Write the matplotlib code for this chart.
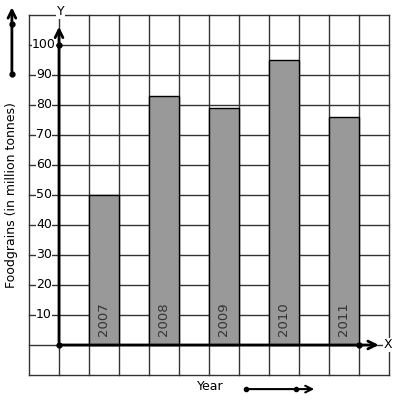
import matplotlib.pyplot as plt

# data
years = ['2007', '2008', '2009', '2010', '2011']
foodgrains = [50, 83, 79, 95, 76]
y_ticks = [10, 20, 30, 40, 50, 60, 70, 80, 90, 100]

fig = plt.figure(figsize=(3.97, 4.01), dpi=100)
ax = fig.add_axes([0, 0, 1, 1])
# one grid cell = 30 px, one unit across, 10 units up
ax.set_xlim(-59 / 30, (397 - 59) / 30)
ax.set_ylim(-56 / 3, 345 / 3)
ax.axis('off')

# grid
for gx in range(-1, 12):
    ax.plot([gx, gx], [-10, 110], color='#333333', lw=1, zorder=1)
for gy in range(-10, 111, 10):
    ax.plot([-1, 11], [gy, gy], color='#333333', lw=1, zorder=1)

# bars
pos = [1.5 + 2 * i for i in range(len(years))]
ax.bar(pos, foodgrains, width=1, color='#999999', edgecolor='black', lw=1, zorder=2)
for p, yr in zip(pos, years):
    ax.text(p, 8.7, yr, rotation=90, ha='center', va='center', fontsize=9.5,
            color='#333333', zorder=3)

# axes with arrows
ax.annotate('', xy=(0, 107), xytext=(0, 0),
            arrowprops=dict(arrowstyle='->', lw=2, color='black', mutation_scale=14), zorder=4)
ax.annotate('', xy=(10.75, 0), xytext=(0, 0),
            arrowprops=dict(arrowstyle='->', lw=2, color='black', mutation_scale=14), zorder=4)
ax.plot([0, 0, 10], [0, 100, 0], 'o', color='black', ms=3.5, zorder=5)
ax.text(0.05, 111, 'Y', ha='center', va='center', fontsize=9,
        bbox=dict(facecolor='white', edgecolor='none', pad=0.5), zorder=5)
ax.text(10.97, 0, 'X', ha='center', va='center', fontsize=9,
        bbox=dict(facecolor='white', edgecolor='none', pad=0.5), zorder=5)

# tick labels sitting on the grid lines
for t in y_ticks:
    ax.text(-0.5, t, str(t), ha='center', va='center', fontsize=9,
            bbox=dict(facecolor='white', edgecolor='none', pad=0.3), zorder=3)

# y title and its arrow
ax.text(-1.57, 50, 'Foodgrains (in million tonnes)', rotation=90,
        ha='center', va='center', fontsize=9)
ax.annotate('', xy=(-1.57, 113.5), xytext=(-1.57, 90.3),
            arrowprops=dict(arrowstyle='->', lw=2, color='black', mutation_scale=14))
ax.plot([-1.57, -1.57], [90.3, 107], 'o', color='black', ms=3.5)

# x title and its arrow
ax.text(5.03, -14, 'Year', ha='center', va='center', fontsize=9)
ax.annotate('', xy=(8.6, -14.7), xytext=(6.23, -14.7),
            arrowprops=dict(arrowstyle='->', lw=1.5, color='black', mutation_scale=12))
ax.plot([6.23, 7.9], [-14.7, -14.7], 'o', color='black', ms=3)

fig.savefig('out.png', dpi=100)
